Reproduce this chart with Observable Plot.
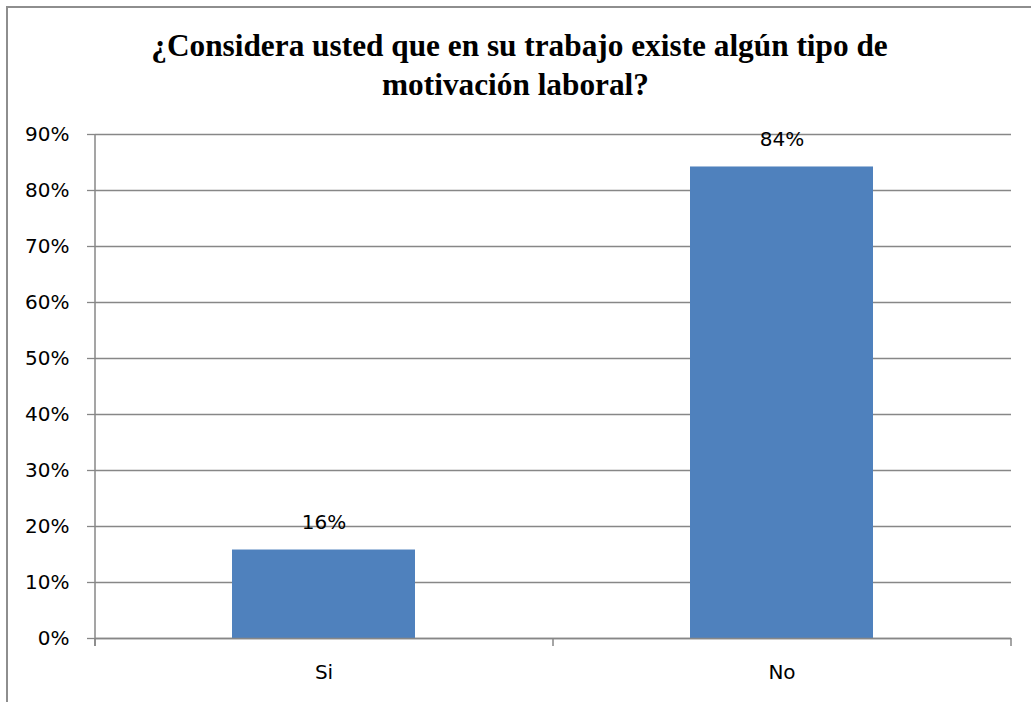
<!DOCTYPE html>
<html><head><meta charset="utf-8">
<script src="https://cdn.jsdelivr.net/npm/d3@7"></script>
<script src="https://cdn.jsdelivr.net/npm/@observablehq/plot@0.6"></script>
<style>
html,body{margin:0;padding:0;background:#fff;overflow:hidden;}
#wrap{position:relative;width:1031px;height:702px;overflow:hidden;}
#frame{position:absolute;left:6px;top:6px;width:1100px;height:800px;border:2px solid #8e8e8e;box-sizing:border-box;}
#title{position:absolute;left:0;top:26px;width:1031px;text-align:center;font-family:"Liberation Serif","Times New Roman",serif;font-weight:bold;font-size:31.3px;line-height:39px;color:#000;}
#title .l1{position:relative;left:4px;}
#chart{position:absolute;left:0;top:118px;}
</style></head><body>
<div id="wrap"><div id="frame"></div><div id="title"></div><div id="chart"></div></div>
<script>
const titleLines = ["¿Considera usted que en su trabajo existe algún tipo de", "motivación laboral?"];
const categories = ["Si", "No"];
const values = [0.158, 0.842];
const valueLabels = ["16%", "84%"];
const yTicks = [0, 0.1, 0.2, 0.3, 0.4, 0.5, 0.6, 0.7, 0.8, 0.9];

const data = categories.map((c, i) => ({cat: c, value: values[i], label: valueLabels[i]}));

const titleEl = document.getElementById("title");
titleLines.forEach((t, i) => { const d = document.createElement("div"); d.className = "l" + (i + 1); d.textContent = t; titleEl.appendChild(d); });

const gridColor = "#878787";
const chart = Plot.plot({
  width: 1031, height: 584,
  marginTop: 16, marginBottom: 64, marginLeft: 95, marginRight: 20,
  style: {fontFamily: "DejaVu Sans", fontSize: "20px", color: "#000", background: "transparent", overflow: "visible"},
  x: {domain: categories, paddingInner: 0.6, paddingOuter: 0.3, label: null},
  y: {domain: [0, 0.9], label: null},
  marks: [
    Plot.ruleY(yTicks, {stroke: gridColor, strokeWidth: 1.3}),
    Plot.barY(data, {x: "cat", y: "value", fill: "#4F81BD"}),
    Plot.ruleY([0], {stroke: gridColor, strokeWidth: 1.5}),
    Plot.axisY(yTicks, {tickFormat: d3.format(".0%"), tickSize: 8, tickPadding: 18, stroke: gridColor, strokeWidth: 1.3, fill: "#000", fontSize: 20, label: null}),
    Plot.axisX({tickSize: 0, tickPadding: 26, fill: "#000", fontSize: 20, label: null}),
    Plot.text(data, {x: "cat", y: "value", text: "label", dy: -27, lineAnchor: "middle", fill: "#000", fontSize: 20})
  ]
});

const svg = d3.select(chart);
const [r0, r1] = chart.scale("x").range;
const yr = chart.scale("y").range;
const y0 = Math.max(yr[0], yr[1]);
const yTop = Math.min(yr[0], yr[1]);
const n = categories.length;
svg.append("line").attr("x1", r0).attr("x2", r0).attr("y1", yTop).attr("y2", y0 + 8)
  .attr("stroke", gridColor).attr("stroke-width", 1.5);
for (let i = 0; i <= n; i++) {
  const xx = r0 + i * (r1 - r0) / n;
  svg.append("line").attr("x1", xx).attr("x2", xx).attr("y1", y0).attr("y2", y0 + 8)
    .attr("stroke", gridColor).attr("stroke-width", 1.5);
}
document.getElementById("chart").appendChild(chart);
</script>
</body></html>
